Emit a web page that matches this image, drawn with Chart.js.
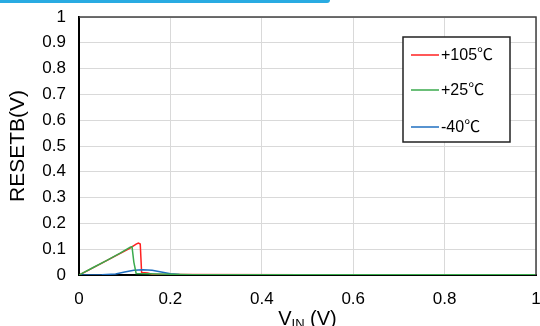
<!DOCTYPE html>
<html>
<head>
<meta charset="utf-8">
<script src="https://cdn.jsdelivr.net/npm/chart.js@4/dist/chart.umd.min.js"></script>
<style>
  body { margin: 0; background: #fff; }
  #wrap { position: relative; width: 540px; height: 326px; }
  #topbar { position: absolute; left: 0; top: 0; width: 330px; height: 3px; background: #29abe2; border-radius: 0 0 3px 0; }
</style>
</head>
<body>
<div id="wrap">
  <canvas id="myChart" width="540" height="326"></canvas>
  <div id="topbar"></div>
</div>
<script>
// Değerler
const seriesLabels = ['+105℃', '+25℃', '-40℃'];
const seriesColors = ['#ff2020', '#3aaa4c', '#1f6fc0'];
// çizim sırası: küçük sayı üstte
const seriesOrder = [3, 1, 2];

const redX = [0, 0.02, 0.05, 0.08, 0.11, 0.125, 0.13, 0.134, 0.137, 0.15, 0.16, 0.2, 0.5, 1];
const redY = [0, 0.018, 0.046, 0.074, 0.102, 0.12, 0.124, 0.12, 0.01, 0.008, 0.003, 0.002, 0.001, 0.001];

const greenX = [0, 0.03, 0.06, 0.09, 0.112, 0.116, 0.12, 0.125, 0.15, 0.2, 0.25, 1];
const greenY = [0, 0.028, 0.056, 0.085, 0.108, 0.11, 0.05, 0.006, 0.005, 0.003, 0.001, 0.001];

const blueX = [0, 0.05, 0.08, 0.1, 0.12, 0.14, 0.16, 0.18, 0.2, 0.22, 0.3, 1];
const blueY = [0, 0.001, 0.004, 0.012, 0.018, 0.02, 0.018, 0.012, 0.005, 0.002, 0.001, 0.001];

const xTicks = [0, 0.2, 0.4, 0.6, 0.8, 1];
const yTicks = [0, 0.1, 0.2, 0.3, 0.4, 0.5, 0.6, 0.7, 0.8, 0.9, 1];

const FONT = "'Liberation Sans', Arial, sans-serif";
const LEGEND_FONT = "'Liberation Sans', 'Noto Sans CJK JP', sans-serif";

function toPoints(xs, ys) {
  return xs.map((x, i) => ({ x: x, y: ys[i] }));
}

// Çerçeve, lejant ve x ekseni başlığı
const decor = {
  id: 'decor',
  afterDraw(chart) {
    const ctx = chart.ctx;
    const a = chart.chartArea;
    ctx.save();

    // üst ve sağ kenar
    ctx.strokeStyle = '#404040';
    ctx.lineWidth = 1.5;
    ctx.beginPath();
    ctx.moveTo(a.left, a.top);
    ctx.lineTo(a.right, a.top);
    ctx.lineTo(a.right, a.bottom);
    ctx.stroke();

    // lejant kutusu
    const bx = a.right - 133, by = a.top + 20, bw = 107, bh = 105;
    ctx.fillStyle = '#fff';
    ctx.fillRect(bx, by, bw, bh);
    ctx.strokeStyle = '#222';
    ctx.lineWidth = 1.5;
    ctx.strokeRect(bx, by, bw, bh);
    const rows = [18, 53, 90];
    ctx.font = '16px ' + LEGEND_FONT;
    ctx.textBaseline = 'middle';
    chart.data.datasets.forEach((ds, i) => {
      const yy = by + rows[i];
      ctx.strokeStyle = ds.borderColor;
      ctx.lineWidth = 1.5;
      ctx.beginPath();
      ctx.moveTo(bx + 8, yy);
      ctx.lineTo(bx + 36, yy);
      ctx.stroke();
      ctx.fillStyle = '#000';
      ctx.fillText(ds.label, bx + 38, yy + 1);
    });

    // x ekseni başlığı: V_IN (V)
    const big = '20px ' + FONT, small = '13px ' + FONT;
    ctx.font = big;
    const wV = ctx.measureText('V').width;
    const wRest = ctx.measureText(' (V)').width;
    ctx.font = small;
    const wIn = ctx.measureText('IN').width;
    let x = (a.left + a.right) / 2 - (wV + wIn + wRest) / 2;
    const base = 325;
    ctx.fillStyle = '#000';
    ctx.textBaseline = 'alphabetic';
    ctx.font = big;
    ctx.fillText('V', x, base);
    x += wV;
    ctx.font = small;
    ctx.fillText('IN', x, base + 3);
    x += wIn;
    ctx.font = big;
    ctx.fillText(' (V)', x, base);
    ctx.restore();
  }
};

function createChart() {
  const ctx = document.getElementById('myChart').getContext('2d');
  const xs = [redX, greenX, blueX];
  const ys = [redY, greenY, blueY];

  new Chart(ctx, {
    type: 'line',
    data: {
      datasets: seriesLabels.map((label, i) => ({
        label: label,
        data: toPoints(xs[i], ys[i]),
        borderColor: seriesColors[i],
        borderWidth: 1.5,
        order: seriesOrder[i],
        pointRadius: 0,
        tension: 0,
        fill: false
      }))
    },
    options: {
      responsive: false,
      animation: false,
      layout: { padding: { left: 0, top: 17, right: 4, bottom: 0 } },
      plugins: {
        legend: { display: false },
        tooltip: { enabled: false }
      },
      scales: {
        x: {
          type: 'linear',
          min: 0,
          max: 1,
          afterFit: s => { s.height = 51; s.paddingLeft = 0; s.paddingRight = 0; },
          afterBuildTicks: s => { s.ticks = xTicks.map(v => ({ value: v })); },
          ticks: {
            color: '#000',
            font: { family: FONT, size: 17 },
            padding: 14,
            maxRotation: 0,
            callback: v => String(+v.toFixed(1))
          },
          grid: { color: '#d9d9d9', lineWidth: 1, drawTicks: false },
          border: { color: '#000', width: 2 }
        },
        y: {
          type: 'linear',
          min: 0,
          max: 1,
          afterFit: s => { s.width = 79; s.paddingTop = 0; s.paddingBottom = 0; },
          afterBuildTicks: s => { s.ticks = yTicks.map(v => ({ value: v })); },
          title: {
            display: true,
            text: 'RESETB(V)',
            color: '#000',
            font: { family: FONT, size: 21 },
            padding: { top: 6, bottom: 0 }
          },
          ticks: {
            color: '#000',
            font: { family: FONT, size: 17 },
            padding: 13,
            callback: v => String(+v.toFixed(1))
          },
          grid: { color: '#d9d9d9', lineWidth: 1, drawTicks: false },
          border: { color: '#000', width: 2 }
        }
      }
    },
    plugins: [decor]
  });
}

document.addEventListener('DOMContentLoaded', createChart);
</script>
</body>
</html>
